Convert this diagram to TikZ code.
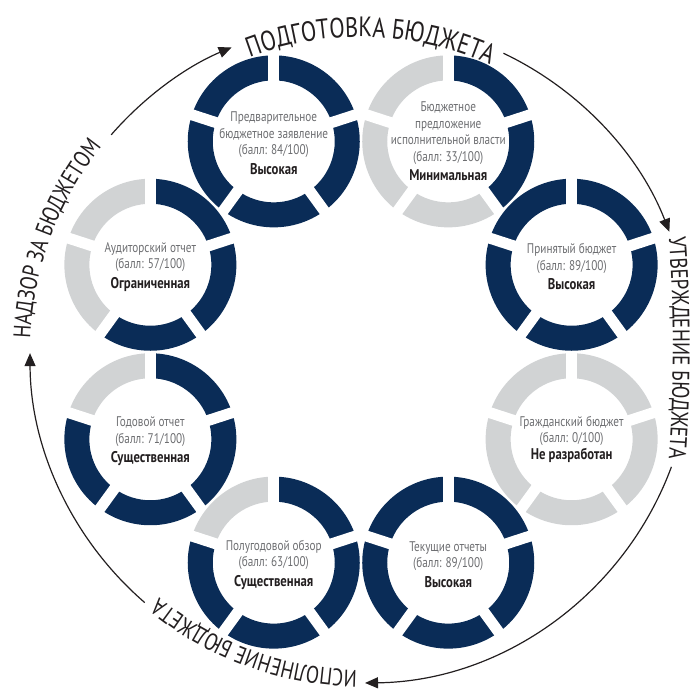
\documentclass[tikz,border=0pt]{standalone}
\usepackage{fontspec}
\setmainfont{PT Sans}[FakeStretch=0.8]
\newfontfamily\gradefont{PT Sans}[FakeStretch=0.82]
\usetikzlibrary{decorations.text,arrows.meta}

\definecolor{navy}{RGB}{10,44,87}
\definecolor{pale}{RGB}{209,211,212}
\definecolor{note}{RGB}{109,110,113}
\definecolor{ink}{RGB}{35,31,32}

\tikzset{every node/.style={align=center, inner sep=0pt, text=note, font=\fontsize{14}{16.5}\selectfont},
  flow/.style={ink, line width=1.2pt, -{Triangle[length=13pt,width=11pt]}},
  stage/.style={decorate, decoration={text along path, text align=center, text color=ink,
      text={|\fontsize{24}{24}\selectfont|#1}}},
  bigstage/.style={decorate, decoration={text along path, text align=center, text color=ink,
      text={|\fontsize{28}{28}\selectfont|#1}}}}

\newcommand{\grade}[1]{\textcolor{ink}{\gradefont\bfseries\fontsize{15.5}{18}\selectfont #1}}

% one score ring: centre, number of dark segments (clockwise from top)
\newcommand{\scorering}[2]{%
  \foreach \k in {1,...,5} {
    \pgfmathtruncatemacro\a{90-72*(\k-1)}
    \pgfmathtruncatemacro\b{90-72*\k}
    \ifnum\k>#2 \def\segcol{pale}\else\def\segcol{navy}\fi
    \fill[\segcol] (#1) ++(\a:86) arc(\a:\b:86) -- ++(\b:-25) arc(\b:\a:61) -- cycle;
  }
  \foreach \k in {0,...,4}
    \draw[white, line width=11pt] (#1) -- ++(90-72*\k:87);
}

\begin{document}
\begin{tikzpicture}[x=1pt,y=1pt]
  \useasboundingbox (-361,-339) rectangle (338,352);

  % rings round the cycle
  \foreach \i/\ang/\dark in {1/112.5/5, 2/67.5/2, 3/22.5/5, 4/-22.5/0, 5/-67.5/5, 6/-112.5/4, 7/-157.5/4, 8/157.5/3} {
    \coordinate (c\i) at (\ang:228);
    \scorering{c\i}{\dark}
  }

  \node (txt1) at ([yshift=-2]c1) {Предварительное\\бюджетное заявление\\(балл: 84/100)\\[3pt]\grade{Высокая}};
  \node (txt2) at (c2) {Бюджетное\\предложение\\исполнительной власти\\(балл: 33/100)\\[3pt]\grade{Минимальная}};
  \node (txt3) at ([yshift=-2]c3) {Принятый бюджет\\(балл: 89/100)\\[3pt]\grade{Высокая}};
  \node (txt4) at (c4) {Гражданский бюджет\\(балл: 0/100)\\\grade{Не разработан}};
  \node (txt5) at ([yshift=-2]c5) {Текущие отчеты\\(балл: 89/100)\\[3pt]\grade{Высокая}};
  \node (txt6) at ([yshift=-2]c6) {Полугодовой обзор\\(балл: 63/100)\\[3pt]\grade{Существенная}};
  \node (txt7) at ([yshift=-2]c7) {Годовой отчет\\(балл: 71/100)\\[3pt]\grade{Существенная}};
  \node (txt8) at ([yshift=-2]c8) {Аудиторский отчет\\(балл: 57/100)\\[3pt]\grade{Ограниченная}};

  % outer cycle
  \draw[flow] (139:331) arc(139:113:331);
  \draw[flow] (64.5:331) arc(64.5:21.3:331);
  \draw[flow] (-20.3:331) arc(-20.3:-89.3:331);
  \draw[flow] (229.2:331) arc(229.2:180.2:331);

  \path[bigstage={ПОДГОТОВКА БЮДЖЕТА}] (112.5:315) arc(112.5:64:315);
  \path[stage={УТВЕРЖДЕНИЕ БЮДЖЕТА}] ([shift={(-1188,4)}]4.4:1500) arc(4.4:-4.4:1500);
  \path[stage={ИСПОЛНЕНИЕ БЮДЖЕТА}] (-89.3:318) arc(-89.3:-130.8:318);
  \path[stage={НАДЗОР ЗА БЮДЖЕТОМ}] (180.2:331) arc(180.2:139:331);
\end{tikzpicture}
\end{document}
